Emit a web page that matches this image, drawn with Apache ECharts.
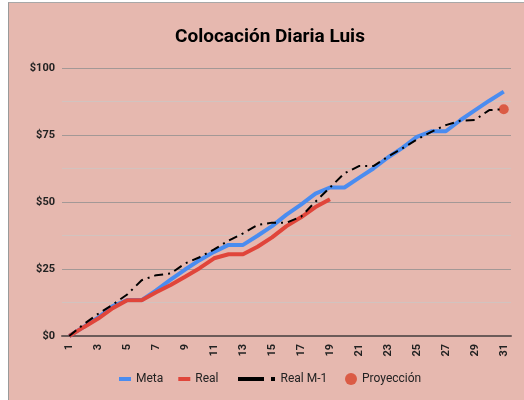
<!DOCTYPE html>
<html>
<head>
<meta charset="utf-8">
<script src="https://cdn.jsdelivr.net/npm/echarts@6/dist/echarts.min.js"></script>
<style>
  html, body { margin: 0; padding: 0; background: #fff; }
  .frame {
    position: absolute; left: 8px; top: 2px; width: 515px; height: 398px;
    background: #e6b8af; border-left: 1px solid #9a9a9a; border-top: 1px solid #a8a8a8;
  }
  #chart { position: absolute; left: 0; top: 0; width: 524px; height: 400px; }
</style>
</head>
<body>
<div class="frame"></div>
<div id="chart"></div>
<script>
// dias del mes
const dias = Array.from({ length: 31 }, (_, i) => String(i + 1))

const meta = [0, 3.4, 6.9, 11.2, 13.4, 13.4, 17, 21, 24.8, 28.3, 31.4, 34, 34, 37.4, 41, 45.3, 49, 53.1, 55.4, 55.4,
  59, 62.5, 66.6, 70.2, 74.3, 76.4, 76.4, 80.5, 84.2, 87.8, 91.2]
const real = [0, 3.3, 6.5, 10.4, 13.3, 13.3, 16.3, 19, 22.1, 25.3, 29, 30.5, 30.5, 33.3, 36.8, 41, 44.3, 48.1, 51]
const realM1 = [0, 4.4, 8.3, 11.7, 15.5, 20.8, 22.7, 23.3, 27.1, 29.4, 32.3, 35.6, 38.3, 41.4, 42.3, 42.3, 44.5, 50.1, 55.4, 60.7,
  63.4, 63.4, 66.9, 70, 73.3, 76.2, 78.7, 80.3, 80.6, 84.3, 84.6]
const proyeccionDia = '31'
const proyeccionValor = 84.6

const chart = echarts.init(document.getElementById('chart'))

const legendText = { color: '#222', fontSize: 12, fontFamily: 'Roboto' }

chart.setOption({
  backgroundColor: 'transparent',
  animation: false,
  title: {
    text: 'Colocación Diaria Luis',
    left: 170,
    top: 23,
    textStyle: { fontFamily: 'Roboto', fontSize: 19, fontWeight: 'bold', color: '#000' }
  },
  legend: [
    {
      data: ['Meta', 'Real'],
      left: 114,
      top: 368,
      itemWidth: 12,
      itemHeight: 4,
      itemGap: 15,
      icon: 'rect',
      textStyle: legendText
    },
    {
      data: [{ name: 'Real M-1', icon: 'path://M0,3H26V7H0Z M33,3H37V7H33Z' }],
      left: 233,
      top: 368,
      itemWidth: 38,
      itemHeight: 4,
      itemGap: 5,
      textStyle: legendText
    },
    {
      data: [{ name: 'Proyección', icon: 'circle' }],
      left: 340,
      top: 368,
      itemWidth: 12,
      itemHeight: 12,
      itemGap: 5,
      textStyle: legendText
    }
  ],
  grid: { left: 62, right: 13, top: 68, bottom: 64 },
  xAxis: {
    type: 'category',
    data: dias,
    boundaryGap: true,
    axisLine: { lineStyle: { color: '#6b5b59', width: 2 } },
    axisTick: { show: false },
    axisLabel: {
      interval: 1,
      rotate: 90,
      margin: 8,
      fontFamily: 'Roboto',
      fontSize: 11,
      fontWeight: 'bold',
      color: '#222'
    }
  },
  yAxis: {
    type: 'value',
    min: 0,
    max: 100,
    interval: 12.5,
    axisLine: { show: false },
    axisTick: { show: false },
    axisLabel: {
      margin: 7,
      fontFamily: 'Roboto',
      fontSize: 11,
      fontWeight: 'bold',
      color: '#222',
      formatter: v => (v % 25 === 0 ? '$' + v : '')
    },
    splitLine: { lineStyle: { color: ['#a39896', '#d2c3bf'], width: 1 } }
  },
  series: [
    {
      name: 'Meta',
      type: 'line',
      data: meta,
      symbol: 'none',
      color: '#4a8cf0',
      lineStyle: { width: 4, color: '#4a8cf0' }
    },
    {
      name: 'Real',
      type: 'line',
      data: real,
      symbol: 'none',
      color: '#e0453a',
      lineStyle: { width: 4, color: '#e0453a' }
    },
    {
      name: 'Real M-1',
      type: 'line',
      data: realM1,
      symbol: 'none',
      color: '#000',
      lineStyle: { width: 2, color: '#000', type: [9, 5, 2, 5] }
    },
    {
      name: 'Proyección',
      type: 'scatter',
      data: dias.map(d => (d === proyeccionDia ? proyeccionValor : null)),
      symbol: 'circle',
      symbolSize: 10,
      color: '#d8432a',
      itemStyle: { color: '#d8432a' }
    }
  ]
})
</script>
</body>
</html>
